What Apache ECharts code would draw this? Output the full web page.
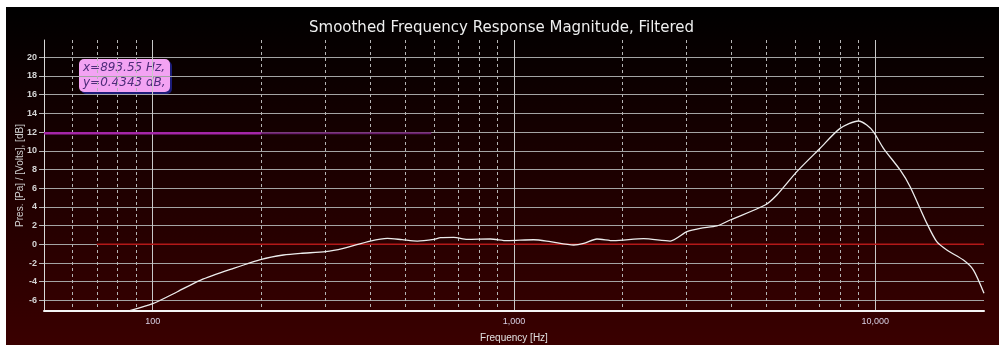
<!DOCTYPE html>
<html><head><meta charset="utf-8">
<script src="https://cdn.jsdelivr.net/npm/echarts@6/dist/echarts.min.js"></script>
<style>
html,body{margin:0;padding:0;background:#ffffff;width:999px;height:345px;overflow:hidden}
#c{position:absolute;left:6px;top:7px;width:993px;height:338px}
</style>
</head><body><div id="c"></div>
<script>
// Frequency (Hz) and smoothed magnitude (dB)
const freqs = [86.4, 100, 117, 135.8, 167.3, 200, 230, 256.6, 301, 337, 400, 446, 490, 540, 600, 626, 681, 742, 860, 957, 1134, 1261, 1463, 1559, 1697, 1887, 2285, 2707, 3011, 3278, 3643, 3967, 4957, 5340, 6067, 7036, 7992, 8980, 9474, 9900, 10537, 11718, 12490, 13890, 14800, 15780, 17540, 18700, 20000];
const mags  = [-7.1, -6.35, -5.07, -3.82, -2.57, -1.6, -1.14, -0.96, -0.79, -0.43, 0.35, 0.64, 0.5, 0.35, 0.53, 0.71, 0.75, 0.53, 0.57, 0.39, 0.49, 0.28, -0.07, 0.1, 0.57, 0.39, 0.6, 0.35, 1.35, 1.71, 1.96, 2.6, 4.2, 5.27, 7.77, 10.27, 12.4, 13.19, 12.76, 12.0, 10.27, 7.95, 6.16, 2.25, 0.28, -0.61, -1.68, -2.75, -5.24];

const yTicks = [-6, -4, -2, 0, 2, 4, 6, 8, 10, 12, 14, 16, 18, 20];
const xMajor = [100, 1000, 10000];
const xMinor = [60, 70, 80, 90, 200, 300, 400, 500, 600, 700, 800, 900, 2000, 3000, 4000, 5000, 6000, 7000, 8000, 9000];

const xRange = [50, 20000];
const yRange = [-7.13, 21.85];

// cursor / reference lines
const cursorLevel = 11.87;
const cursorBright = [50, 200];
const cursorDim = [200, 590];
const zeroLine = [70, 20000];
const cursorText = ['x=893.55 Hz,', 'y=0.4343 dB,'];

const titleText = 'Smoothed Frequency Response Magnitude, Filtered';

const chart = echarts.init(document.getElementById('c'), null, {renderer: 'canvas'});

const curve = freqs.map((f, i) => [f, mags[i]]);

chart.setOption({
  animation: false,
  backgroundColor: new echarts.graphic.LinearGradient(0, 0, 0, 1, [
    {offset: 0, color: '#000000'},
    {offset: 1, color: '#3a0000'}
  ]),
  title: {
    text: titleText,
    left: 298, top: 9,
    textStyle: {color: '#eeeeee', fontSize: 15, fontWeight: 'normal', fontFamily: 'DejaVu Sans'}
  },
  grid: {left: 38, right: 15, top: 33, bottom: 34, containLabel: false, outerBoundsMode: 'none'},
  xAxis: [{
    type: 'log', logBase: 10, min: xRange[0], max: xRange[1],
    name: 'Frequency [Hz]', nameLocation: 'middle', nameGap: 22, nameMoveOverlap: false,
    nameTextStyle: {color: '#e0e0e0', fontSize: 10, fontFamily: 'Liberation Sans'},
    axisLine: {show: true, onZero: false, lineStyle: {color: '#f4f4f4', width: 2}},
    axisTick: {show: false, customValues: xMajor},
    axisLabel: {customValues: xMajor, color: '#d8d0e4', fontSize: 9, fontFamily: 'Liberation Sans', margin: 6,
      formatter: v => Number(v).toLocaleString('en-US')},
    splitLine: {show: true, lineStyle: {color: '#c8c8c8', width: 1, type: 'solid'}}
  }, {
    type: 'log', logBase: 10, min: xRange[0], max: xRange[1],
    position: 'bottom',
    axisLine: {show: false},
    axisTick: {show: false, customValues: xMinor},
    axisLabel: {show: false, customValues: xMinor},
    splitLine: {show: true, lineStyle: {color: '#b4b4b4', width: 1, type: [3, 3]}}
  }],
  yAxis: {
    type: 'value', min: yRange[0], max: yRange[1],
    name: 'Pres. [Pa] / [Volts], [dB]', nameLocation: 'middle', nameGap: 19, nameMoveOverlap: false,
    nameTextStyle: {color: '#d0d0d0', fontSize: 10, fontFamily: 'Liberation Sans'},
    axisLine: {show: true, onZero: false, lineStyle: {color: '#d8d8d8', width: 1}},
    axisTick: {show: true, length: 5, customValues: yTicks, lineStyle: {color: '#b8b8b8'}},
    axisLabel: {customValues: yTicks, color: '#d4d4d4', fontSize: 9, fontWeight: 'bold', fontFamily: 'Liberation Sans', margin: 7},
    splitLine: {show: true, lineStyle: {color: '#a4a4a4', width: 1}}
  },
  series: [
    {
      type: 'line', name: 'zero', xAxisIndex: 0, silent: true, symbol: 'none',
      data: zeroLine.map(f => [f, 0]),
      lineStyle: {color: '#b41818', width: 1.5}
    },
    {
      type: 'line', name: 'cursorBright', xAxisIndex: 0, silent: true, symbol: 'none',
      data: cursorBright.map(f => [f, cursorLevel]),
      lineStyle: {color: '#a526a8', width: 2.5}
    },
    {
      type: 'line', name: 'cursorDim', xAxisIndex: 0, silent: true, symbol: 'none',
      data: cursorDim.map(f => [f, cursorLevel]),
      lineStyle: {color: '#6a1c6e', width: 2}
    },
    {
      type: 'line', name: 'Filtered', xAxisIndex: 0, symbol: 'none', smooth: 0.25,
      data: curve,
      lineStyle: {color: '#ececec', width: 1.3}
    }
  ],
  graphic: [{
    type: 'group', left: 73, top: 52,
    children: [
      {type: 'rect', shape: {x: 0, y: 0, width: 91, height: 33, r: 5},
       style: {fill: '#f3a3f3', shadowColor: '#1c1c78', shadowOffsetX: 2, shadowOffsetY: 2, shadowBlur: 0}},
      {type: 'text', x: 4, y: 3, style: {text: cursorText[0], font: 'italic 12px "DejaVu Sans"', fill: '#4e2c7a'}},
      {type: 'text', x: 4, y: 18, style: {text: cursorText[1], font: 'italic 12px "DejaVu Sans"', fill: '#4e2c7a'}}
    ]
  }]
});
</script>
</body></html>
